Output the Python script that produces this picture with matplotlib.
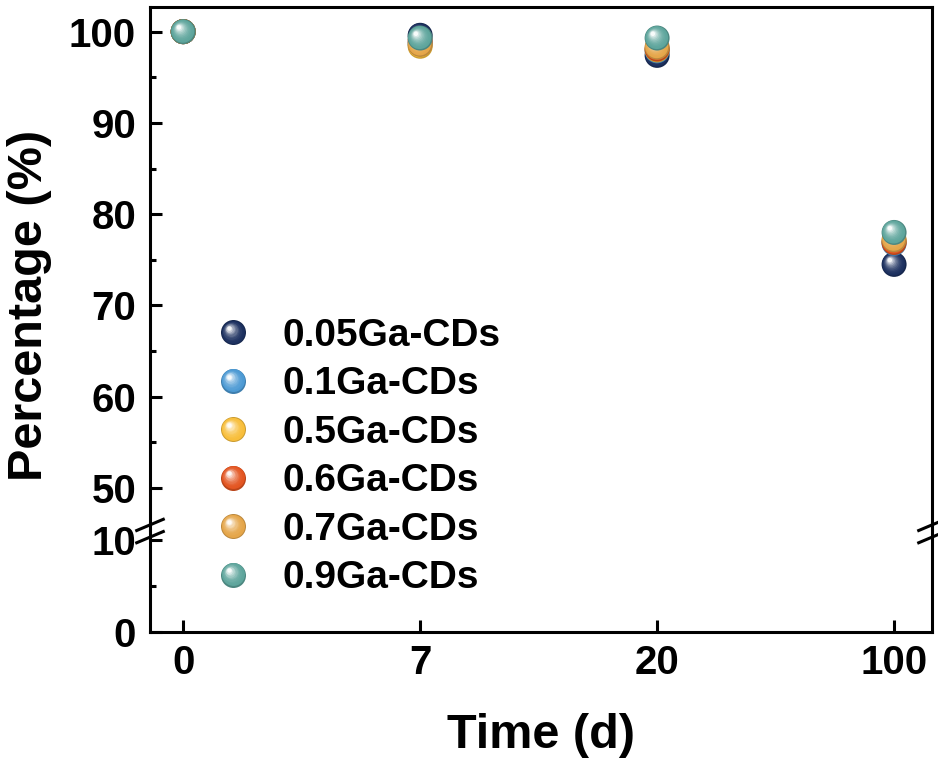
import numpy as np
import matplotlib
matplotlib.use('Agg')
from matplotlib import pyplot as plt
from matplotlib import transforms
from matplotlib.colors import to_rgb
from matplotlib.lines import Line2D
from matplotlib.legend_handler import HandlerBase

plt.rcParams['font.family'] = ['Liberation Sans', 'DejaVu Sans']
plt.rcParams['font.weight'] = 'bold'

# data
time_labels = ['0', '7', '20', '100']
series = ['0.05Ga-CDs', '0.1Ga-CDs', '0.5Ga-CDs', '0.6Ga-CDs', '0.7Ga-CDs', '0.9Ga-CDs']
colors = ['#1B2F5E', '#4C9AD4', '#F8BE3A', '#E35420', '#E5A649', '#5DA59C']
ga005 = [100, 99.6, 97.4, 74.5]
ga01 = [100, 98.7, 97.9, 76.8]
ga05 = [100, 98.4, 98.0, 77.0]
ga06 = [100, 99.0, 98.1, 76.9]
ga07 = [100, 98.6, 98.3, 77.2]
ga09 = [100, 99.3, 99.3, 78.0]
values = [ga005, ga01, ga05, ga06, ga07, ga09]

DIAM = 18  # marker diameter in points


def sphere_layers(color, d=DIAM, n=10):
    # fake 3D ball: darker base, lighter and smaller discs shifted up-left
    c = np.array(to_rgb(color))
    out = [(0, 0, d, tuple(c * 0.82))]
    for k in range(1, n + 1):
        f = k / n
        dk = d * (1 - 0.82 * f)
        off = (d - dk) / 2 * 0.55
        col = c + (1 - c) * (0.95 * f ** 2.3)
        out.append((-off * 0.75, off * 0.75, dk, tuple(np.clip(col, 0, 1))))
    return out


class SphereHandler(HandlerBase):
    def create_artists(self, legend, orig_handle, xdescent, ydescent,
                       width, height, fontsize, trans):
        xc = width / 2 - xdescent
        yc = height / 2 - ydescent
        arts = []
        for dx, dy, dk, col in sphere_layers(orig_handle.get_color()):
            arts.append(Line2D([xc + dx], [yc + dy], marker='o', markersize=dk,
                               color=col, mec='none', ls='none', transform=trans))
        return arts


fig = plt.figure(figsize=(9.38, 7.67), dpi=100)
L, R = 150 / 938, 932 / 938
y_top, y_brk, y_bot = 1 - 7 / 767, 1 - 530 / 767, 1 - 632 / 767
ax1 = fig.add_axes([L, y_brk, R - L, y_top - y_brk])
ax2 = fig.add_axes([L, y_bot, R - L, y_brk - y_bot])

x = np.arange(len(time_labels))
for ax in (ax1, ax2):
    for i, (vals, c) in enumerate(zip(values, colors)):
        for dx, dy, dk, col in sphere_layers(c):
            tr = transforms.offset_copy(ax.transData, fig=fig, x=dx, y=dy, units='points')
            ax.scatter(x, vals, s=dk ** 2, color=col, edgecolors='none',
                       transform=tr, zorder=3 + i, clip_on=True)
    ax.set_xlim(-0.14, 3.16)
    for s in ax.spines.values():
        s.set_linewidth(2.2)
    ax.tick_params(axis='both', which='major', direction='in', length=8.5, width=2.2,
                   labelsize=29, pad=10)
    ax.tick_params(axis='y', which='minor', direction='in', length=4, width=2.2)

ax1.set_ylim(45.4, 102.7)
ax1.set_yticks([50, 60, 70, 80, 90, 100])
ax1.set_yticks([55, 65, 75, 85, 95], minor=True)
ax1.spines['bottom'].set_visible(False)
ax1.tick_params(axis='x', which='both', bottom=False, labelbottom=False)

ax2.set_ylim(0, 11.09)
ax2.set_yticks([0, 10])
ax2.set_yticks([5], minor=True)
ax2.spines['top'].set_visible(False)
ax2.set_xticks(x)
ax2.set_xticklabels(time_labels)
ax2.tick_params(axis='x', pad=9)

# break marks
for xs in (0, 1):
    for yo in (1.05, 0.93):
        ax2.plot([xs - 0.017, xs + 0.017], [yo - 0.055, yo + 0.055], color='black',
                 lw=2.2, transform=ax2.transAxes, clip_on=False, zorder=10)

fig.text(30 / 938, 1 - 305 / 767, 'Percentage (%)', rotation=90, ha='center',
         va='center', fontsize=35, fontweight='bold')
fig.text(541 / 938, 1 - 735 / 767, 'Time (d)', ha='center', va='center',
         fontsize=35, fontweight='bold')

handles = [Line2D([], [], color=c) for c in colors]
fig.legend(handles, series, handler_map={Line2D: SphereHandler()},
           loc='upper left', bbox_to_anchor=(213.6 / 938, 1 - 318 / 767),
           frameon=False, fontsize=28, handlelength=1.0, handletextpad=0.76,
           labelspacing=0.32, borderpad=0, borderaxespad=0)

fig.savefig('out.png', dpi=100)
